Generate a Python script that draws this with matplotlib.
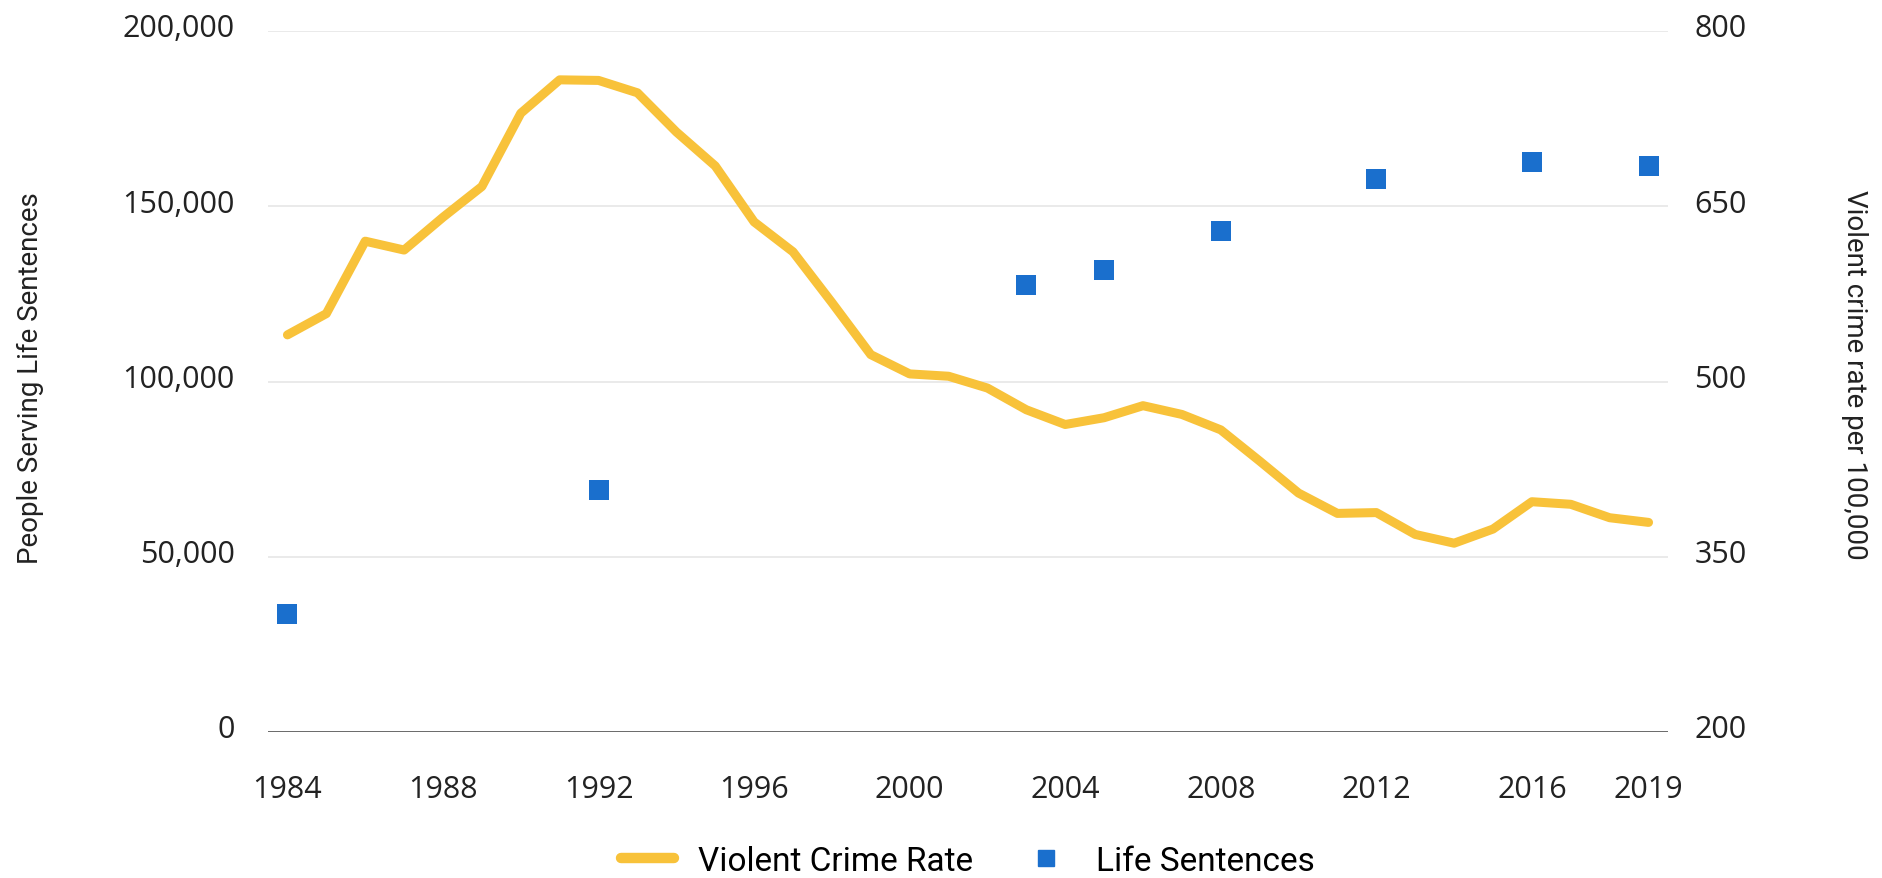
import matplotlib
matplotlib.use("Agg")
import matplotlib.pyplot as plt
import matplotlib.transforms as mtransforms
from matplotlib.lines import Line2D

# FBI violent crime rate per 100,000, 1984-2019
years = list(range(1984, 2020))
crime_rate = [539.9, 558.1, 620.1, 612.5, 640.6, 666.9, 729.6, 758.2, 757.7,
              747.1, 713.6, 684.5, 636.6, 611.0, 567.6, 523.0, 506.5, 504.5,
              494.4, 475.8, 463.2, 469.0, 479.3, 471.8, 458.6, 431.9, 404.5,
              387.1, 387.8, 369.1, 361.6, 373.7, 397.1, 394.9, 383.4, 379.4]

# people serving life sentences (survey years only)
life_years = [1984, 1992, 2003, 2005, 2008, 2012, 2016, 2019]
life_count = [33700, 69000, 127600, 131900, 143000, 157900, 162700, 161500]

xtick_years = [1984, 1988, 1992, 1996, 2000, 2004, 2008, 2012, 2016, 2019]
left_ticks = [0, 50000, 100000, 150000, 200000]
right_ticks = [200, 350, 500, 650, 800]

YELLOW = "#F8C23A"
BLUE = "#1A6FCD"
TICK_FONT = "Open Sans"
LABEL_FONT = "Roboto"

fig = plt.figure(figsize=(18.83, 8.79), dpi=100)
ax = fig.add_axes([268 / 1883, 1 - 733 / 879, 1400 / 1883, 701 / 879])
ax2 = ax.twinx()

ax.scatter(life_years, life_count, marker="s", s=14 ** 2, color=BLUE,
           linewidths=0, zorder=3)
ax2.plot(years, crime_rate, color=YELLOW, lw=6.5, solid_capstyle="round",
         solid_joinstyle="round")

ax.set_xlim(1983.5, 2019.5)
ax.set_ylim(0, 200000)
ax2.set_ylim(200, 800)

ax.set_xticks(xtick_years)
ax.set_xticklabels([str(y) for y in xtick_years])
ax.set_yticks(left_ticks)
ax.set_yticklabels([f"{v:,}" for v in left_ticks])
ax2.set_yticks(right_ticks)
ax2.set_yticklabels([str(v) for v in right_ticks])

ax.grid(axis="y", color="#e6e6e6", lw=1.2)
ax.set_axisbelow(True)
for a in (ax, ax2):
    for side in ("top", "left", "right", "bottom"):
        a.spines[side].set_visible(False)
ax.axhline(0, color="#555555", lw=1.2, zorder=2)

ax.tick_params(axis="both", length=0, labelsize=22, labelcolor="#222222")
ax.tick_params(axis="y", pad=24)
ax.tick_params(axis="x", pad=30)
ax2.tick_params(axis="y", length=0, labelsize=22, labelcolor="#222222", pad=19)
ax2.tick_params(axis="x", length=0)

# nudge the y labels slightly above their gridlines
lift = mtransforms.ScaledTranslation(0, 0.06, fig.dpi_scale_trans)
for lab in ax.get_yticklabels() + ax2.get_yticklabels():
    lab.set_transform(lab.get_transform() + lift)
for lab in ax.get_xticklabels() + ax.get_yticklabels() + ax2.get_yticklabels():
    lab.set_fontfamily(TICK_FONT)

fig.text(30 / 1883, 1 - 378 / 879, "People Serving Life Sentences",
         rotation=90, ha="center", va="center", fontsize=20,
         family=LABEL_FONT, color="#222222")
fig.text(1855 / 1883, 1 - 375 / 879, "Violent crime rate per 100,000",
         rotation=270, ha="center", va="center", fontsize=20,
         family=LABEL_FONT, color="#222222")

handles = [
    Line2D([], [], color=YELLOW, lw=7.5, solid_capstyle="round"),
    Line2D([], [], color=BLUE, marker="s", markersize=11, lw=0),
]
fig.legend(handles, ["Violent Crime Rate", "Life Sentences"], loc="center",
           bbox_to_anchor=(0.514, 1 - 862 / 879), ncol=2, frameon=False,
           prop={"family": LABEL_FONT, "size": 24}, handlelength=1.6,
           handletextpad=0.7, columnspacing=1.4)

fig.savefig("out.png", dpi=100, facecolor="white")
